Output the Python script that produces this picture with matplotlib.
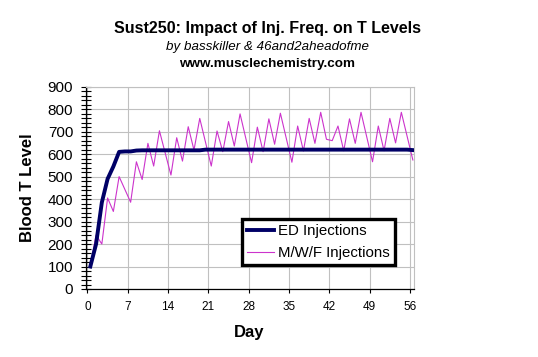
import numpy as np
import matplotlib
matplotlib.use("Agg")
import matplotlib.pyplot as plt
from matplotlib.ticker import MultipleLocator

plt.rcParams['font.family'] = ['Liberation Sans', 'DejaVu Sans']

# daily readings, day 0..56
days = np.arange(57)
ed_levels = [100, 200, 385, 490, 545, 610, 612, 612, 616, 617,
             617, 617, 617, 617, 617, 617, 617, 617, 617, 617,
             620, 620, 620, 620, 620, 620, 620, 620, 620, 620,
             620, 620, 620, 620, 620, 620, 620, 620, 620, 620,
             620, 620, 620, 620, 620, 620, 620, 620, 620, 620,
             620, 620, 620, 620, 620, 620, 618]
mwf_levels = [100, 240, 200, 405, 345, 500, 443, 386, 566, 487,
              648, 547, 704, 605, 507, 673, 569, 722, 618, 759,
              653, 547, 703, 611, 745, 636, 779, 670, 562, 720,
              611, 757, 644, 782, 673, 564, 725, 614, 759, 648,
              786, 666, 660, 725, 615, 757, 648, 786, 676, 566,
              725, 615, 759, 650, 786, 680, 574]
x_ticks = [0, 7, 14, 21, 28, 35, 42, 49, 56]
y_ticks = [0, 100, 200, 300, 400, 500, 600, 700, 800, 900]

W, H = 538, 357
fig = plt.figure(figsize=(W / 100, H / 100), dpi=100)
ax = fig.add_axes([86 / W, 1 - 289 / H, (414 - 86) / W, (289 - 86.7) / H])

# excel category axis: points sit half a day right of the tick
pos = days + 0.5
ax.plot(pos, mwf_levels, color='#CC33CC', lw=0.8, label='M/W/F Injections', zorder=3)
ax.plot(pos, ed_levels, color='#000066', lw=2.8, label='ED Injections', zorder=4,
        solid_joinstyle='round')

ax.set_xlim(-0.25, 56.7)
ax.set_ylim(0, 900)
ax.set_xticks(x_ticks)
ax.set_yticks(y_ticks)
ax.yaxis.set_minor_locator(MultipleLocator(20))
ax.grid(True, color='#c0c0c0', lw=0.8)
ax.set_axisbelow(True)

ax.tick_params(axis='y', which='both', direction='inout', length=6.5, width=0.8,
               labelsize=11, pad=6)
ax.tick_params(axis='x', which='major', direction='out', length=3, width=0.8,
               labelsize=8.5, pad=6)
ax.tick_params(axis='x', which='minor', length=0)
for side in ['left', 'bottom']:
    ax.spines[side].set_color('black')
    ax.spines[side].set_linewidth(0.9)
for side in ['top', 'right']:
    ax.spines[side].set_color('#c0c0c0')
    ax.spines[side].set_linewidth(0.8)

handles, labels = ax.get_legend_handles_labels()
leg = ax.legend(handles[::-1], labels[::-1], loc='upper left',
                bbox_to_anchor=(241.7 / W, 1 - 219 / H), bbox_transform=fig.transFigure,
                borderaxespad=0, fancybox=False, framealpha=1, fontsize=10.8,
                handlelength=1.8, handletextpad=0.25, labelspacing=0.5,
                borderpad=0.35)
leg.get_frame().set_edgecolor('black')
leg.get_frame().set_linewidth(2.4)

fig.text(267 / W, 1 - 28.3 / H, 'Sust250: Impact of Inj. Freq. on T Levels',
         ha='center', va='center', fontsize=11.5, fontweight='bold')
fig.text(267 / W, 1 - 47.3 / H, 'by basskiller & 46and2aheadofme',
         ha='center', va='center', fontsize=9.6, style='italic')
fig.text(267 / W, 1 - 64.3 / H, 'www.musclechemistry.com',
         ha='center', va='center', fontsize=9.7, fontweight='bold')
fig.text(28 / W, 1 - 188 / H, 'Blood T Level', rotation=90,
         ha='center', va='center', fontsize=12, fontweight='bold')
fig.text(249.5 / W, 1 - 332 / H, 'Day',
         ha='center', va='center', fontsize=12, fontweight='bold')

fig.savefig('out.png', dpi=100)
